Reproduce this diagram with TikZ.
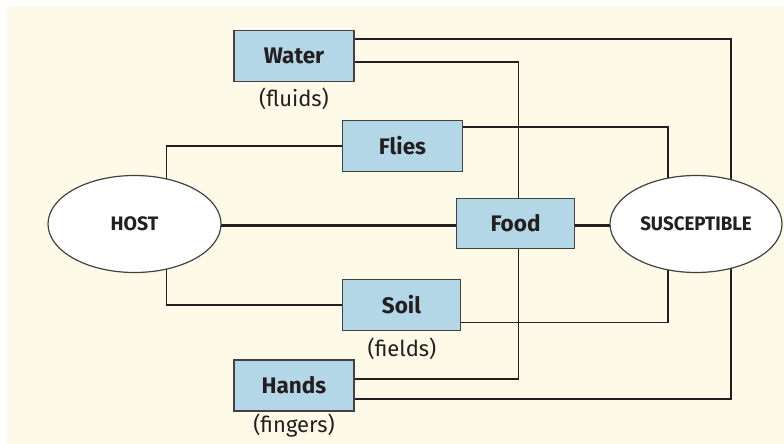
\documentclass[tikz,border=0pt]{standalone}
\usepackage{fontspec}
\setmainfont{Fira Sans}
\usetikzlibrary{shapes.geometric}
\pgfdeclarelayer{back}
\pgfdeclarelayer{lines}
\pgfsetlayers{back,lines,main}
\definecolor{cream}{RGB}{254,250,232}
\definecolor{boxblue}{RGB}{179,215,230}
\definecolor{ink}{RGB}{35,31,32}
\tikzset{
  agent/.style={draw=ink!85, line width=1.2pt, fill=boxblue, minimum width=120pt, minimum height=51pt, inner sep=0pt, font=\fontsize{22.5}{24}\selectfont\bfseries, text=ink},
  oval/.style={ellipse, draw=ink!85, line width=1.2pt, fill=white, minimum width=173pt, minimum height=97pt, inner sep=0pt, font=\fontsize{19.5}{21}\selectfont\bfseries, text=ink},
  sub/.style={font=\fontsize{22}{24}\selectfont\mdseries, text=ink},
  link/.style={draw=ink, line width=1.3pt},
  thick link/.style={draw=ink, line width=3pt}
}
\begin{document}
\begin{tikzpicture}[x=1pt,y=-1pt]
\useasboundingbox (0,0) rectangle (784,444);
\begin{pgfonlayer}{back}
\fill[white] (0,0) rectangle (784,444);
\fill[cream] (7,7) rectangle (784,444);
\end{pgfonlayer}

\node[agent] (water) at (294,56) {Water};
\node[sub] (fluids) at (294,99) {(fluids)};
\node[agent] (flies) at (402.5,146) {Flies};
\node[agent, minimum width=118pt, minimum height=50pt] (food) at (515.5,223.5) {Food};
\node[agent, minimum width=118pt] (soil) at (401.5,305) {Soil};
\node[sub] (fields) at (402,349) {(fields)};
\node[agent] (hands) at (294,385.5) {Hands};
\node[sub] (fingers) at (294,426) {(fingers)};
\node[oval] (host) at (134.5,224) {HOST};
\node[oval, minimum width=172pt] (susc) at (696,224) {\scalebox{0.96}[1]{SUSCEPTIBLE}};

\begin{pgfonlayer}{lines}
\draw[link] ([yshift=17pt]water.east) -| ([xshift=35pt]susc.center);
\draw[link] ([yshift=-6pt]water.east) -| ([xshift=3pt]food.north);
\draw[link] ([yshift=19pt]flies.east) -| ([xshift=-28pt]susc.center);
\draw[link] (flies.west) -| ([xshift=32pt]host.center);
\draw[thick link] ([yshift=-1.5pt]host.center) -- ([yshift=-1.5pt]susc.center);
\draw[link] ([xshift=3pt]food.south) |- ([yshift=6.5pt]hands.east);
\draw[link] (soil.west) -| ([xshift=32pt]host.center);
\draw[link] ([yshift=-17.5pt]soil.east) -| ([xshift=-28pt]susc.center);
\draw[link] ([yshift=-13.5pt]hands.east) -| ([xshift=35pt]susc.center);
\end{pgfonlayer}
\end{tikzpicture}
\end{document}
